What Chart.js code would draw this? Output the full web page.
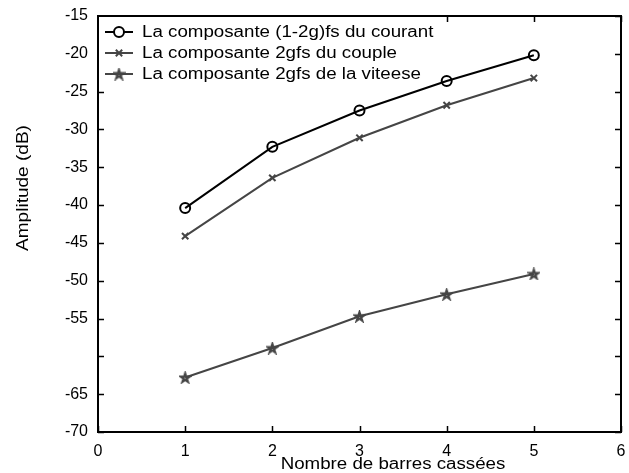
<!DOCTYPE html>
<html>
<head>
<meta charset="utf-8">
<script src="https://cdn.jsdelivr.net/npm/chart.js@4.4.0/dist/chart.umd.min.js"></script>
<style>
  html, body { margin: 0; padding: 0; background: #fff; }
  #wrap { width: 629px; height: 473px; }
</style>
</head>
<body>
<div id="wrap"><canvas id="ampChart" width="629" height="473"></canvas></div>
<script>
/* ============================
   DATA
============================ */
const barres = [1, 2, 3, 4, 5];
const courant = [-40.4, -32.3, -27.5, -23.6, -20.2];
const couple = [-44.1, -36.4, -31.1, -26.8, -23.2];
const vitesse = [-62.8, -58.9, -54.7, -51.8, -49.1];

const seriesLabels = [
  "La composante (1-2g)fs du courant",
  "La composante 2gfs du couple",
  "La composante 2gfs de la viteese",
];
const xTitle = "Nombre de barres cassées";
const yTitle = "Amplitude (dB)";

const FONT = "'Liberation Sans', Arial, Helvetica, sans-serif";
const DARK = "#000000";
const GREY = "#454545";

/* star marker (pentagram) */
function makeStar(size, color) {
  const c = document.createElement("canvas");
  c.width = size;
  c.height = size;
  const g = c.getContext("2d");
  const cx = size / 2, cy = size / 2 + 0.5, r = size / 2 - 1.5;
  g.beginPath();
  for (let i = 0; i < 5; i++) {
    const a = -Math.PI / 2 + (i * 4 * Math.PI) / 5;
    const px = cx + r * Math.cos(a), py = cy + r * Math.sin(a);
    if (i === 0) g.moveTo(px, py);
    else g.lineTo(px, py);
  }
  g.closePath();
  g.strokeStyle = color;
  g.lineWidth = 2;
  g.stroke();
  return c;
}
const starImg = makeStar(13, GREY);

const toPts = (ys) => barres.map((x, i) => ({ x, y: ys[i] }));

// draws text stretched a bit horizontally, like the original figure
function wideText(ctx, txt, x, y, sx) {
  ctx.save();
  ctx.translate(x, y);
  ctx.scale(sx, 1);
  ctx.fillText(txt, 0, 0);
  ctx.restore();
}

/* ============================
   FRAME / TICKS / LEGEND
============================ */
const framePlugin = {
  id: "frame",
  beforeDatasetsDraw(chart) {
    const { ctx, chartArea: a, scales } = chart;
    ctx.save();
    ctx.strokeStyle = "#000";
    ctx.lineWidth = 1.5;
    const tl = 6;
    ctx.beginPath();
    scales.x.ticks.forEach((t) => {
      const px = Math.round(scales.x.getPixelForValue(t.value)) + 0.5;
      ctx.moveTo(px, a.bottom);
      ctx.lineTo(px, a.bottom - tl);
      ctx.moveTo(px, a.top);
      ctx.lineTo(px, a.top + tl);
    });
    scales.y.ticks.forEach((t) => {
      const py = Math.round(scales.y.getPixelForValue(t.value)) + 0.5;
      ctx.moveTo(a.left, py);
      ctx.lineTo(a.left + tl, py);
      ctx.moveTo(a.right, py);
      ctx.lineTo(a.right - tl, py);
    });
    ctx.stroke();
    ctx.restore();
  },
  afterDatasetsDraw(chart) {
    const { ctx, chartArea: a } = chart;
    const ds = chart.data.datasets;
    ctx.save();

    // legend box (inside the plot, top-left)
    const boxR = 440, boxB = 82;
    ctx.fillStyle = "#fff";
    ctx.fillRect(a.left, a.top, boxR - a.left, boxB - a.top);

    const rows = [32, 53, 74];
    ds.forEach((d, i) => {
      const y = rows[i];
      ctx.strokeStyle = d.borderColor;
      ctx.lineWidth = 2;
      ctx.beginPath();
      ctx.moveTo(105, y);
      ctx.lineTo(133, y);
      ctx.stroke();
      if (d.pointStyle instanceof HTMLCanvasElement) {
        ctx.drawImage(d.pointStyle, 119 - d.pointStyle.width / 2, y - d.pointStyle.height / 2);
      } else {
        Chart.helpers.drawPoint(ctx, {
          pointStyle: d.pointStyle,
          radius: d.pointRadius,
          borderWidth: d.pointBorderWidth,
          rotation: 0,
        }, 119, y);
      }
      ctx.fillStyle = "#000";
      ctx.font = "16px " + FONT;
      ctx.textBaseline = "middle";
      ctx.textAlign = "left";
      wideText(ctx, d.label, 142, y + 1, 1.17);
    });

    // frame
    ctx.strokeStyle = "#000";
    ctx.lineWidth = 2;
    ctx.strokeRect(a.left, a.top, a.right - a.left, a.bottom - a.top);

    // axis titles
    ctx.fillStyle = "#000";
    ctx.font = "16px " + FONT;
    ctx.textAlign = "center";
    ctx.textBaseline = "middle";
    wideText(ctx, xTitle, 393, 465, 1.17);
    ctx.translate(23, 188);
    ctx.rotate(-Math.PI / 2);
    ctx.font = "17px " + FONT;
    wideText(ctx, yTitle, 0, 0, 1.12);
    ctx.restore();
  },
};

/* ============================
   CHART
============================ */
const ctx = document.getElementById("ampChart").getContext("2d");

new Chart(ctx, {
  type: "line",
  data: {
    datasets: [
      {
        label: seriesLabels[0],
        data: toPts(courant),
        borderColor: DARK,
        backgroundColor: "#fff",
        borderWidth: 2,
        pointStyle: "circle",
        pointRadius: 5,
        pointBorderWidth: 2,
        pointBorderColor: DARK,
        pointBackgroundColor: "rgba(255,255,255,0)",
      },
      {
        label: seriesLabels[1],
        data: toPts(couple),
        borderColor: GREY,
        backgroundColor: GREY,
        borderWidth: 2,
        pointStyle: "crossRot",
        pointRadius: 4.5,
        pointBorderWidth: 2,
        pointBorderColor: GREY,
      },
      {
        label: seriesLabels[2],
        data: toPts(vitesse),
        borderColor: GREY,
        backgroundColor: GREY,
        borderWidth: 2,
        pointStyle: starImg,
        pointRadius: 6,
      },
    ],
  },
  options: {
    responsive: false,
    animation: false,
    layout: { padding: { top: 16, right: 7, left: 0, bottom: 0 } },
    plugins: { legend: { display: false }, tooltip: { enabled: false } },
    scales: {
      x: {
        type: "linear",
        min: 0,
        max: 6,
        grid: { display: false, drawTicks: false },
        border: { display: false },
        ticks: {
          stepSize: 1,
          padding: 10,
          color: "#000",
          font: { family: FONT, size: 16 },
          maxRotation: 0,
        },
        afterFit(s) {
          s.height = 41;
          s.paddingLeft = 0;
          s.paddingRight = 0;
        },
      },
      y: {
        min: -70,
        max: -15,
        grid: { display: false, drawTicks: false },
        border: { display: false },
        ticks: {
          stepSize: 5,
          padding: 10,
          color: "#000",
          font: { family: FONT, size: 16 },
          callback: (v) => (v === -60 ? "" : v),
        },
        afterFit(s) {
          s.width = 98;
          s.paddingTop = 0;
          s.paddingBottom = 0;
        },
      },
    },
  },
  plugins: [framePlugin],
});
</script>
</body>
</html>
